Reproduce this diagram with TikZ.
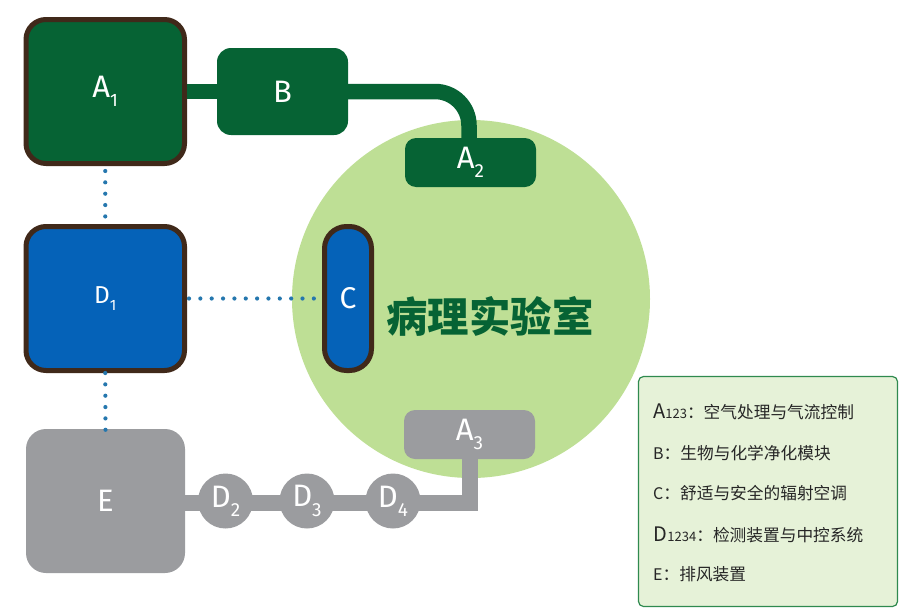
\documentclass[tikz,border=0pt]{standalone}
\usepackage{fontspec}
\usetikzlibrary{calc}
\setmainfont{Noto Sans CJK SC}
\newfontfamily\cjk{Noto Sans CJK SC}
\newfontfamily\lab{Fira Sans}
\definecolor{dgreen}{HTML}{066334}
\definecolor{brownline}{HTML}{40291A}
\definecolor{dblue}{HTML}{0562B8}
\definecolor{greyfill}{HTML}{9B9C9F}
\definecolor{roomfill}{HTML}{BEDF95}
\definecolor{dotblue}{HTML}{2577AE}
\definecolor{legfill}{HTML}{E6F2D8}
\definecolor{legline}{HTML}{2F8A4F}
\newcommand{\lbl}[4]{{\lab\fontsize{#3}{#3}\selectfont #1\raisebox{-0.3em}{\fontsize{#4}{#4}\selectfont #2}}}
\tikzset{
  box/.style={rectangle,inner sep=0pt,text=white,align=center},
  bigbox/.style={box,draw=brownline,line width=5pt,rounded corners=20pt},
  pipegreen/.style={draw=dgreen,line width=15.5pt},
  pipegrey/.style={draw=greyfill,line width=16pt,shorten <=-3pt,shorten >=-3pt},
  dots/.style={draw=dotblue,line width=4.2pt,line cap=round,dash pattern=on 0pt off 11.35pt},
  legtext/.style={anchor=west,inner sep=0pt,text=black!85,font=\cjk\fontsize{16.7}{16.7}\selectfont},
}
\begin{document}
\begin{tikzpicture}[x=1pt,y=-1pt]
\useasboundingbox (0,0) rectangle (902,613);
\node[circle,fill=roomfill,minimum size=358pt,inner sep=0pt] (room) at (471,299) {};
\node[bigbox,fill=dgreen,minimum width=158.5pt,minimum height=144pt] (A1) at (105.25,91.5) {\lbl{A}{1}{31}{18}};
\node[bigbox,fill=dblue,minimum width=158.5pt,minimum height=144pt] (D1) at (105.25,298.5) {\lbl{D}{1}{24.5}{15}};
\node[box,fill=dgreen,rounded corners=14pt,minimum width=131pt,minimum height=87pt] (B) at (282.5,91.5) {\lab\fontsize{31}{31}\selectfont B};
\node[box,fill=dgreen,rounded corners=11pt,minimum width=131pt,minimum height=49pt] (A2) at (470.5,162.5) {\raisebox{5pt}{\lbl{A}{2}{31}{19}}};
\node[box,fill=greyfill,rounded corners=11pt,minimum width=131pt,minimum height=49pt] (A3) at (469.5,434.5) {\raisebox{7pt}{\lbl{A}{3}{31}{19}}};
\node[box,fill=dblue,draw=brownline,line width=5pt,rounded corners=22pt,minimum width=47pt,minimum height=144pt] (C) at (348,298.5) {\lab\fontsize{30}{30}\selectfont C};
\node[box,fill=greyfill,rounded corners=20pt,minimum width=159pt,minimum height=144pt] (E) at (105.5,501) {\lab\fontsize{31}{31}\selectfont E};
\node[box,circle,fill=greyfill,minimum size=55pt] (D2) at (225.5,501) {\lbl{D}{2}{31}{19}};
\node[box,circle,fill=greyfill,minimum size=55pt] (D3) at (307,501) {\lbl{D}{3}{31}{19}};
\node[box,circle,fill=greyfill,minimum size=55pt] (D4) at (393,501) {\lbl{D}{4}{31}{19}};
\coordinate (py) at (0,503);
% connectors
\draw[pipegreen] (A1.east) -- (B.west);
\draw[pipegreen,rounded corners=34pt] (B.east) -| ($(A2.north)+(-1.5,0)$);
\draw[pipegrey] (E.east|-py) -- (D2.west|-py);
\draw[pipegrey] (D2.east|-py) -- (D3.west|-py);
\draw[pipegrey] (D3.east|-py) -- (D4.west|-py);
\draw[draw=greyfill,line width=16pt,line join=miter,shorten <=-3pt] (D4.east|-py) -| (A3.south);
\draw[dots,shorten <=5pt] (A1.south) -- (D1.north);
\draw[dots,shorten >=-1.5pt] (D1.south) -- (E.north);
\draw[dots,shorten <=2pt,shorten >=3pt] (D1.east) -- (C.west);
\node[inner sep=0pt,text=dgreen,font=\cjk\bfseries\fontsize{41.4}{41.4}\selectfont] (title) at (490,316) {病理实验室};
% legend
\node[draw=legline,fill=legfill,line width=1.2pt,rounded corners=5pt,minimum width=259pt,minimum height=230pt,inner sep=0pt] (legend) at (768,491.5) {};
\node[legtext] (l1) at (653,412) {{\fontsize{20}{20}\selectfont A}{\fontsize{13}{13}\selectfont 123}：空气处理与气流控制};
\node[legtext] (l2) at (653,453.5) {{\fontsize{16}{16}\selectfont B}：生物与化学净化模块};
\node[legtext] (l3) at (653,493) {{\fontsize{16}{16}\selectfont C}：舒适与安全的辐射空调};
\node[legtext] (l4) at (653.5,535) {{\fontsize{20}{20}\selectfont D}{\fontsize{13}{13}\selectfont 1234}：检测装置与中控系统};
\node[legtext] (l5) at (653,574) {{\fontsize{16}{16}\selectfont E}：排风装置};
\end{tikzpicture}
\end{document}
